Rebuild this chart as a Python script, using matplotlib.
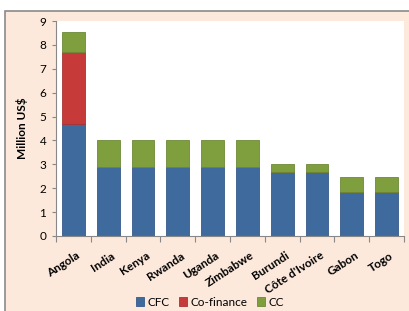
import matplotlib
matplotlib.use("Agg")
import matplotlib.pyplot as plt
from matplotlib.patches import Rectangle
import numpy as np

countries = ['Angola', 'India', 'Kenya', 'Rwanda', 'Uganda', 'Zimbabwe',
             'Burundi', "Côte d'Ivoire", 'Gabon', 'Togo']
cfc = [4.7, 2.9, 2.9, 2.9, 2.9, 2.9, 2.7, 2.7, 1.85, 1.85]
cofinance = [3.0, 0, 0, 0, 0, 0, 0, 0, 0, 0]
cc = [0.85, 1.1, 1.1, 1.1, 1.1, 1.1, 0.3, 0.3, 0.6, 0.6]

plt.rcParams['font.family'] = ['Lato', 'DejaVu Sans']

W, H = 409, 311
fig = plt.figure(figsize=(W / 100, H / 100), dpi=100)
fig.patch.set_facecolor('white')

# peach frame around the chart (runs off the right and bottom edges)
fig.patches.append(Rectangle((5 / W, -0.05), 420 / W, 1.05 - 11 / H, transform=fig.transFigure,
                             facecolor='#FCE9DB', edgecolor='#8A8A8A', linewidth=1.2, zorder=-10))

ax = fig.add_axes([56 / W, 1 - 236 / H, 348 / W, 215 / H])
ax.set_facecolor('white')

x = np.arange(len(countries))
w = 0.66
blue, red, green = '#3F6A9E', '#C63A3A', '#7F9E3E'
cfc = np.array(cfc)
cofinance = np.array(cofinance)
cc = np.array(cc)
ax.bar(x, cfc, w, color=blue, edgecolor='#36598A', linewidth=0.6, label='CFC')
ax.bar(x, cofinance, w, bottom=cfc, color=red, edgecolor='#A83333', linewidth=0.6,
       label='Co-finance')
ax.bar(x, cc, w, bottom=cfc + cofinance, color=green, edgecolor='#6C8935', linewidth=0.6,
       label='CC')

ax.set_xlim(-0.47, 9.47)
ax.set_ylim(0, 9)
ax.set_yticks(range(10))
ax.tick_params(axis='y', labelsize=8.5, length=3, color='#888888', pad=4)
ax.set_xticks(np.arange(-0.5, 10, 1))
ax.set_xticklabels([])
ax.set_xticks(x + 0.08, minor=True)
ax.set_xticklabels(countries, minor=True, rotation=33, ha='right', rotation_mode='anchor',
                   fontsize=8.5, fontweight='bold')
ax.tick_params(axis='x', which='major', length=4, color='#888888')
ax.tick_params(axis='x', which='minor', length=0, pad=10)

for s in ['top', 'right']:
    ax.spines[s].set_visible(False)
for s in ['left', 'bottom']:
    ax.spines[s].set_color('#888888')

ax.set_ylabel('Million US$', fontsize=8.5, fontweight='bold', labelpad=8)

ax.legend(loc='center', bbox_to_anchor=(210 / W, 1 - 302 / H), bbox_transform=fig.transFigure,
          ncol=3, frameon=False, fontsize=8.5, handlelength=0.7, handleheight=0.7,
          handletextpad=0.3, columnspacing=0.8)

fig.savefig('out.png', dpi=100)
